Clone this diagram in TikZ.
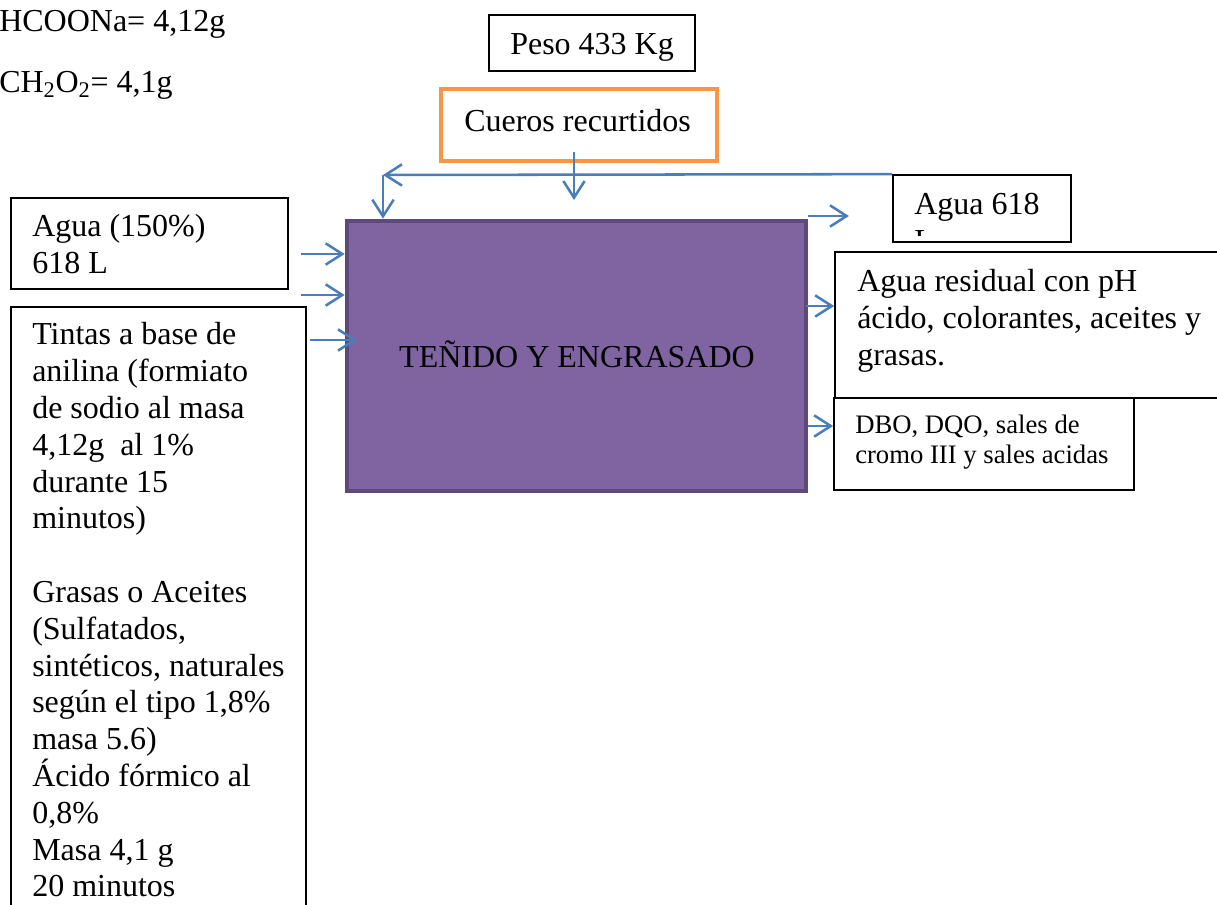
\documentclass[tikz,border=0pt]{standalone}
\usepackage{fontspec}
\setmainfont{Liberation Serif}
\usepackage{tikz}
\usetikzlibrary{arrows.meta}
\usetikzlibrary{fit}
\definecolor{procfill}{HTML}{8064A2}
\definecolor{procline}{HTML}{5F497A}
\definecolor{cuerosline}{HTML}{F79646}
\definecolor{flowblue}{HTML}{4A7EBB}

\begin{document}
\begin{tikzpicture}[x=0.75pt,y=0.75pt,yscale=-1,xscale=1,
  box/.style={draw, line width=1.3pt, inner sep=0pt},
  txt/.style={anchor=base west, inner sep=0pt, text width=12cm, align=flush left, font=\fontsize{24}{27.6}\selectfont},
  smalltxt/.style={txt, font=\fontsize{20}{22.5}\selectfont},
  label/.style={inner sep=0pt, font=\fontsize{24}{27.6}\selectfont},
  flow/.style={draw=flowblue, line width=1.9pt, -{Straight Barb[length=12.5pt,width=16pt]}}]
\path[use as bounding box] (0,0) rectangle (1217,905);
%Shape: Rectangle [proceso]
\node [fit={(347,221) (806,491)}, inner sep=0pt, fill=procfill, draw=procline, line width=3.5pt] (tenido) {};
% Text Node
\node [label, anchor=base] (tenidotxt) at (577,368) {TEÑIDO Y ENGRASADO};
%Shape: Rectangle [peso]
\node [box, fit={(489,15) (695,71)}] (peso) {};
% Text Node
\node [label, anchor=base west] (pesotxt) at (510,55) {Peso 433 Kg};
%Shape: Rectangle [cueros]
\node [fit={(441,89) (717,161)}, inner sep=0pt, draw=cuerosline, line width=3.2pt] (cueros) {};
% Text Node
\node [label, anchor=base west] (cuerostxt) at (464,132) {Cueros recurtidos};
%Shape: Rectangle [agua entrada]
\node [box, fit={(11,198) (288,289)}] (agua) {};
% Text Node
\node [txt] (aguatxt) at (32,237) {Agua (150\%)\\618 L};
%Shape: Rectangle [tintas]
\node [box, fit={(11,307) (306,920)}] (tintas) {};
% Text Node
\node [txt] (tintastxt) at (32,345) {Tintas a base de\\anilina (formiato\\de sodio al masa\\4,12g\ \ al 1\%\\durante 15\\minutos)\\[27.6pt]Grasas o Aceites\\(Sulfatados,\\sintéticos, naturales\\según el tipo 1,8\%\\masa 5.6)\\Ácido fórmico al\\0,8\%\\Masa 4,1 g\\20 minutos};
%Shape: Rectangle [agua salida]
\node [box, fit={(893,175) (1071,242)}] (agua618) {};
% Text Node (cortado)
\begin{scope}
\clip (893,175) rectangle (1071,236);
\node [txt] (agua618txt) at (914,215) {Agua 618\\L};
\end{scope}
%Shape: Rectangle [agua residual]
\node [box, fit={(835,252) (1230,398)}] (residual) {};
% Text Node
\node [txt] (residualtxt) at (857,292) {Agua residual con pH\\ácido, colorantes, aceites y\\grasas.};
%Shape: Rectangle [dbo]
\node [box, fit={(834,398) (1134,490)}] (dbo) {};
% Text Node
\node [smalltxt] (dbotxt) at (855,433) {DBO, DQO, sales de\\cromo III y sales acidas};
% Text Node
\node [label, anchor=base west] (formiato) at (-1,32) {HCOONa= 4,12g};
% Text Node
\node [label, anchor=base west] (formico) at (-1,93) {CH\textsubscript{2}O\textsubscript{2}= 4,1g};
%Arrows
\coordinate (ret) at (383,175);
\coordinate (cin) at (574,152);
\coordinate (cout) at (574,200);
\coordinate (in1) at (301,254);
\coordinate (in2) at (301,295);
\coordinate (in3) at (310,340);
\coordinate (in3e) at (357,340);
\coordinate (out1) at (808,216);
\coordinate (out1e) at (849,216);
\coordinate (out2) at (806,306);
\coordinate (out3) at (808,426);
\draw [flow] (agua618.north west) -- (ret);
\draw [flow] (ret) -- (ret |- tenido.north);
\draw [flow] (cin) -- (cout);
\draw [flow] (in1) -- (in1 -| tenido.west);
\draw [flow] (in2) -- (in2 -| tenido.west);
\draw [flow] (in3) -- (in3e);
\draw [flow] (out1) -- (out1e);
\draw [flow] (out2) -- (out2 -| residual.west);
\draw [flow] (out3) -- (out3 -| dbo.west);
\end{tikzpicture}
\end{document}
